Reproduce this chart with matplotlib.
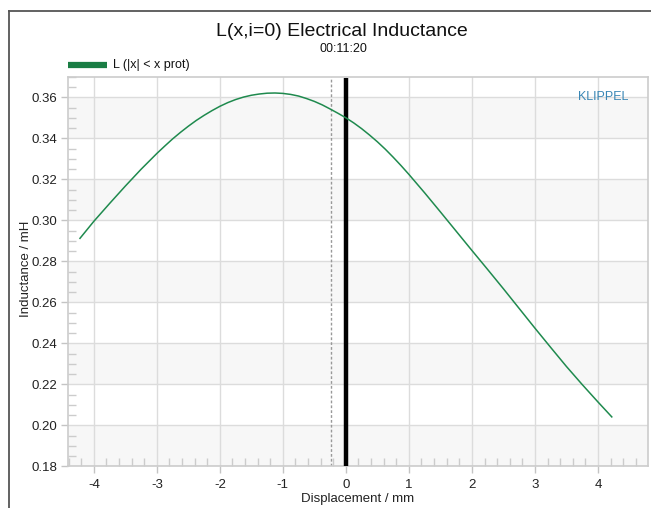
import matplotlib
matplotlib.use("Agg")
import matplotlib.pyplot as plt
from matplotlib.lines import Line2D
from matplotlib.ticker import MultipleLocator

plt.rcParams['font.family'] = ['Liberation Sans', 'DejaVu Sans']

# ---- data ----
displacement_mm = [-4.22, -4.0, -3.75, -3.5, -3.25, -3.0, -2.875, -2.75, -2.625, -2.5,
                   -2.375, -2.25, -2.125, -2.0, -1.875, -1.75, -1.625, -1.5, -1.375, -1.25,
                   -1.125, -1.0, -0.875, -0.75, -0.625, -0.5, -0.375, -0.25, -0.125, 0.0,
                   0.125, 0.25, 0.375, 0.5, 0.625, 0.75, 0.875, 1.0, 1.25, 1.5,
                   1.75, 2.0, 2.25, 2.5, 2.75, 3.0, 3.25, 3.5, 3.75, 4.0, 4.22]
inductance_mH = [0.2912, 0.2995, 0.3082, 0.3167, 0.3249, 0.3326, 0.3362, 0.3397, 0.3429, 0.3459,
                 0.3487, 0.3512, 0.3535, 0.3556, 0.3574, 0.3589, 0.3601, 0.3610, 0.3616, 0.3620,
                 0.3621, 0.3619, 0.3614, 0.3606, 0.3594, 0.3580, 0.3563, 0.3543, 0.3522, 0.3500,
                 0.3475, 0.3447, 0.3416, 0.3383, 0.3347, 0.3308, 0.3267, 0.3224, 0.3134, 0.3041,
                 0.2947, 0.2853, 0.2760, 0.2666, 0.2570, 0.2474, 0.2380, 0.2287, 0.2199, 0.2114, 0.2041]
series_label = "L (|x| < x prot)"
rest_position = 0.0          # thick black line
offset_position = -0.23      # dotted line
rest_line_top = 0.3692
x_ticks = [-4, -3, -2, -1, 0, 1, 2, 3, 4]
y_ticks = [0.18, 0.20, 0.22, 0.24, 0.26, 0.28, 0.30, 0.32, 0.34, 0.36]
x_limits = (-4.41, 4.79)
y_limits = (0.18, 0.37)

title = "L(x,i=0) Electrical Inductance"
subtitle = "00:11:20"
xlabel = "Displacement / mm"
ylabel = "Inductance / mH"
brand = "KLIPPEL"

# ---- figure ----
fig = plt.figure(figsize=(6.51, 5.08), dpi=100)
ax_w = (647.7 - 68) / 651
ax = fig.add_axes([68/651, 1-466.3/508, ax_w, (466.3-76.8)/508])
ax.set_xlim(*x_limits)
ax.set_ylim(*y_limits)

# alternating bands
for i in range(0, len(y_ticks) - 1, 2):
    ax.axhspan(y_ticks[i], y_ticks[i+1], color='#f7f7f7', zorder=0, lw=0)

ax.set_xticks(x_ticks)
ax.set_yticks(y_ticks)
ax.set_xticklabels([f"{t:d}" for t in x_ticks])
ax.set_yticklabels([f"{t:.2f}" for t in y_ticks])
ax.xaxis.set_minor_locator(MultipleLocator(0.2))
ax.yaxis.set_minor_locator(MultipleLocator(0.005))
ax.grid(True, which='major', color='#dcdcdc', lw=1.0, zorder=1)
ax.set_axisbelow(True)

ax.tick_params(axis='both', which='major', direction='out', length=5, width=1,
               color='#c4c4c4', labelsize=9.5, labelcolor='#222222', pad=3)
ax.tick_params(axis='both', which='minor', direction='in', length=6, width=1,
               color='#cccccc')
ax.tick_params(axis='x', which='major', pad=4)

for side in ['left', 'bottom', 'top', 'right']:
    ax.spines[side].set_color('#cccccc')
    ax.spines[side].set_linewidth(1.2)

# lines
ax.axvline(offset_position, color='#999999', lw=1.0, ls=(0, (2, 1.5)), zorder=2)
ax.plot([rest_position, rest_position], [y_limits[0], rest_line_top], color='black',
        lw=3.2, zorder=3, solid_capstyle='butt')
ax.plot(displacement_mm, inductance_mH, color='#1f8a4e', lw=1.1, zorder=4)

ax.set_xlabel(xlabel, fontsize=9.5, color='#222222', labelpad=1.5)
ax.set_ylabel(ylabel, fontsize=9.5, color='#222222', va='center')
ax.yaxis.set_label_coords((26 - 68) / 651 / ax_w, 0.508)

# titles
fig.text(342/651, 1-32/508, title, ha='center', va='center', fontsize=14, color='#111111')
fig.text(343/651, 1-49.5/508, subtitle, ha='center', va='center', fontsize=9, color='#111111')

# legend (manual)
fig.add_artist(Line2D([68/651, 107/651], [1-65/508, 1-65/508], color='#1a7d44', lw=4.5,
                      solid_capstyle='butt'))
fig.text(113/651, 1-65/508, series_label, ha='left', va='center', fontsize=9, color='#111111')

# brand
ax.text(603/651, 1-97/508, brand, transform=fig.transFigure, ha='center', va='center',
        fontsize=9, color='#3a87b5')

# outer frame
fig.add_artist(Line2D([8.5/651, 8.5/651], [0, 1-10.5/508], color='#555555', lw=1.3))
fig.add_artist(Line2D([8.5/651, 1], [1-10.5/508, 1-10.5/508], color='#555555', lw=1.3))

fig.savefig("out.png", dpi=100)
